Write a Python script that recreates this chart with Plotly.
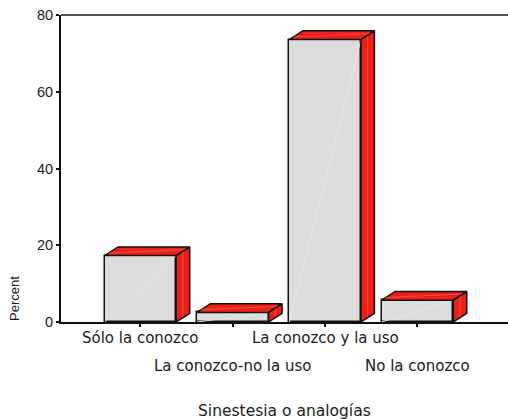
import plotly.graph_objects as go

categories = ["Sólo la conozco", "La conozco-no la uso", "La conozco y la uso", "No la conozco"]
percent = [17.3, 2.5, 73.6, 5.7]
y_ticks = [0, 20, 40, 60, 80]
x_title = "Sinestesia o analogías"
y_title = "Percent"

FRONT = "#DDDDDD"
RED = "#EE1F17"
EDGE = "#111111"
BAR_W = 0.775
DX = 0.146   # depth offset along x (category units)
DY = 2.27    # depth offset along y (percent units)

xs = list(range(len(categories)))

fig = go.Figure()

# front faces
fig.add_trace(go.Bar(
    x=xs, y=percent, width=BAR_W,
    marker=dict(color=FRONT, line=dict(color=EDGE, width=1.5)),
    hoverinfo="skip", showlegend=False,
))

# faint diagonal highlight on the front faces
diag_x, diag_y = [], []
for c, v in zip(xs, percent):
    diag_x += [c - BAR_W / 2, c + BAR_W / 2, None]
    diag_y += [0, v, None]
fig.add_trace(go.Scatter(x=diag_x, y=diag_y, mode="lines",
                         line=dict(color="#E6E6E6", width=1),
                         hoverinfo="skip", showlegend=False))

# top and side faces
px_, py_ = [], []
for c, v in zip(xs, percent):
    l, r = c - BAR_W / 2, c + BAR_W / 2
    px_ += [l, l + DX, r + DX, r, l, None]
    py_ += [v, v + DY, v + DY, v, v, None]
    px_ += [r, r + DX, r + DX, r, r, None]
    py_ += [v, v + DY, DY, 0, v, None]
fig.add_trace(go.Scatter(x=px_, y=py_, mode="lines", fill="toself",
                         fillcolor=RED, line=dict(color=EDGE, width=1.5),
                         hoverinfo="skip", showlegend=False))

# subtle highlights on the red faces
hx, hy = [], []
for c, v in zip(xs, percent):
    l, r = c - BAR_W / 2, c + BAR_W / 2
    hx += [l + DX * 0.3, r + DX * 0.7, None]
    hy += [v + DY * 0.3, v + DY * 0.7, None]
    hx += [r + DX * 0.5, r + DX * 0.5, None]
    hy += [DY * 0.6, v + DY * 0.5, None]
fig.add_trace(go.Scatter(x=hx, y=hy, mode="lines",
                         line=dict(color="rgba(255,120,110,0.5)", width=1),
                         hoverinfo="skip", showlegend=False))

annotations = []
for i, (c, name) in enumerate(zip(xs, categories)):
    annotations.append(dict(
        x=c, y=0, xref="x", yref="paper", text=name, showarrow=False,
        xanchor="center", yanchor="top",
        yshift=-5 if i % 2 == 0 else -33,
        font=dict(family="DejaVu Sans", size=15, color="#1a1a1a"),
    ))
annotations.append(dict(
    x=0.5, y=0, xref="paper", yref="paper", text=x_title, showarrow=False,
    xanchor="center", yanchor="top", yshift=-78,
    font=dict(family="DejaVu Sans", size=15.5, color="#1a1a1a"),
))
annotations.append(dict(
    x=0, y=0.075, xref="paper", yref="paper", text=y_title, showarrow=False,
    textangle=-90, xanchor="center", yanchor="middle", xshift=-46,
    font=dict(family="Liberation Sans", size=13, color="#1a1a1a"),
))

fig.update_layout(
    width=508, height=419,
    margin=dict(l=61, r=0, t=15, b=97),
    paper_bgcolor="white", plot_bgcolor="white",
    showlegend=False,
    bargap=0,
    annotations=annotations,
    shapes=[dict(type="line", xref="paper", yref="paper", x0=0, x1=1, y0=1, y1=1,
                 line=dict(color="#555555", width=2))],
    xaxis=dict(range=[-0.86, 3.98], tickvals=xs, showticklabels=False,
               ticks="outside", ticklen=3, tickwidth=2, tickcolor="#111",
               showline=True, linecolor="#111", linewidth=2,
               showgrid=False, zeroline=False, fixedrange=True),
    yaxis=dict(range=[0, 80], tickvals=y_ticks, ticks="outside", ticklen=3,
               tickwidth=2, tickcolor="#111",
               showline=True, linecolor="#111", linewidth=2,
               showgrid=False, zeroline=False,
               tickfont=dict(family="Liberation Sans", size=14.5, color="#1a1a1a"),
               fixedrange=True),
)

fig.write_html("out.html", config={"displayModeBar": False},
               post_script="document.body.style.margin='0';document.body.style.padding='0';document.body.style.overflow='hidden';")
